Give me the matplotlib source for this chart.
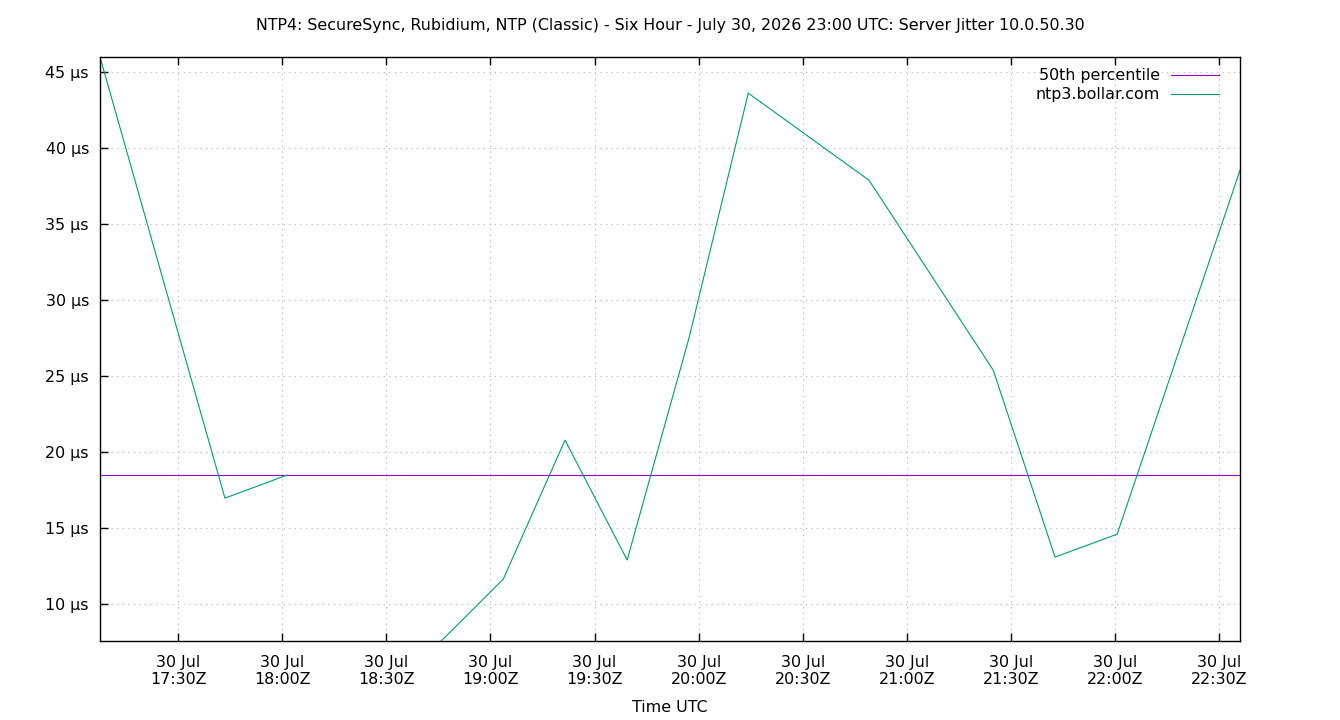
import numpy as np
import pandas as pd
import matplotlib
matplotlib.use('Agg')
import matplotlib.pyplot as plt
import matplotlib.dates as mdates

# values
times = ['17:07:30', '17:43:30', '18:01:24', '18:23:00', '18:45:48', '19:03:42',
         '19:21:30', '19:39:24', '19:57:18', '20:14:18', '20:49:06', '21:24:54',
         '21:42:42', '22:00:36', '22:36:00']
jitter_us = [46.0, 16.97, 18.49, np.nan, 7.57, 11.64, 20.79, 12.9, 27.57,
             43.62, 37.89, 25.39, 13.09, 14.6, 38.55]
median_us = 18.49
yticks = [10, 15, 20, 25, 30, 35, 40, 45]

t = pd.to_datetime(['2026-07-30 ' + s for s in times])

plt.rcParams['font.family'] = ['DejaVu Sans']
plt.rcParams['font.size'] = 11.4

fig = plt.figure(figsize=(13.4, 7.2), dpi=100)
ax = fig.add_axes([100 / 1340, 1 - 641 / 720, 1140 / 1340, 584 / 720])

ax.axhline(median_us, color='#9400d3', lw=0.8, label='50th percentile')
ax.plot(t, jitter_us, color='#009e73', lw=0.8, label='ntp3.bollar.com')

ax.set_xlim(t[0], t[-1])
ax.set_ylim(7.57, 46.0)
ax.set_yticks(yticks)
ax.set_yticklabels(['%d µs' % v for v in yticks])

ax.xaxis.set_major_locator(mdates.MinuteLocator(byminute=[0, 30]))
ax.xaxis.set_major_formatter(mdates.DateFormatter('%d %b\n%H:%MZ'))

ax.tick_params(direction='in', length=6, width=1, top=True, right=False, pad=8)
ax.tick_params(axis='x', pad=10)
ax.grid(True, color='#b0b0b0', lw=0.8, linestyle=(0, (1, 4)))
for s in ax.spines.values():
    s.set_linewidth(1)

ax.legend(loc='upper right', bbox_to_anchor=(1 - 10 / 1140, 1), frameon=False,
          markerfirst=False, handlelength=3.0, handletextpad=0.7,
          borderaxespad=0.3, labelspacing=0.25, fontsize=11.4)

fig.suptitle('NTP4: SecureSync, Rubidium, NTP (Classic) - Six Hour - July 30, 2026 23:00 UTC: Server Jitter 10.0.50.30',
             y=0.975, fontsize=11.4)
fig.text(670 / 1340, 1 - 707 / 720, 'Time UTC', ha='center', va='center', fontsize=11.4)

plt.savefig('out.png', dpi=100)
